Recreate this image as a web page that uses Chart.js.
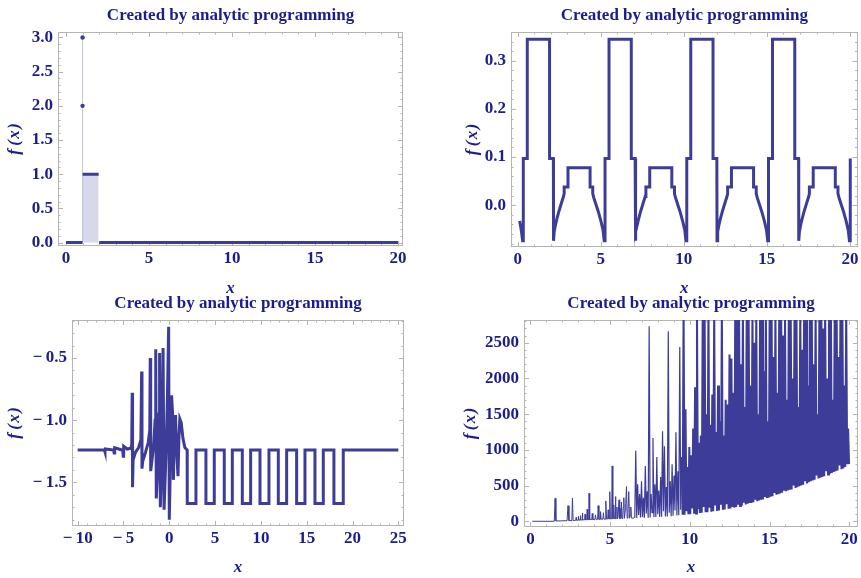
<!DOCTYPE html>
<html>
<head>
<meta charset="utf-8">
<script src="https://cdn.jsdelivr.net/npm/chart.js@4.4.1/dist/chart.umd.min.js"></script>
<style>
html, body { margin: 0; padding: 0; background: #fff; }
body { width: 861px; height: 578px; position: relative; overflow: hidden; }
canvas { position: absolute; }
</style>
</head>
<body>
<canvas id="c1" width="430" height="300" style="left:0;top:0"></canvas>
<canvas id="c2" width="431" height="300" style="left:430px;top:0"></canvas>
<canvas id="c3" width="430" height="290" style="left:0;top:288px"></canvas>
<canvas id="c4" width="431" height="290" style="left:430px;top:288px"></canvas>
<script>
const titleText = 'Created by analytic programming';
const xTitle = 'x';
const yTitle = 'f\u2009(\u200ax\u200a)';

// top left
const p1XTicks = [0, 5, 10, 15, 20];
const p1YTicks = [0, 0.5, 1, 1.5, 2, 2.5, 3];
const p1LineX = [0, 1, 1, 1, 1.97, 1.97, 2, 20];
const p1LineY = [0, 0, null, 1, 1, null, 0, 0];
const p1StemX = [1, 1];
const p1StemY = [0, 3];
const p1DotX = [1, 1];
const p1DotY = [3, 2];

// top right
const p2XTicks = [0, 5, 10, 15, 20];
const p2YTicks = [0, 0.1, 0.2, 0.3];
const p2X = [0.12, 0.22, 0.30,
  0.34, 0.34, 0.58, 0.58, 1.92, 1.92, 2.15, 2.16, 2.20, 2.27, 2.35, 2.49, 2.65, 2.76, 2.80, 2.80, 3.03, 3.03, 4.36, 4.36, 4.52, 4.52, 4.58, 4.69, 4.86, 5.02, 5.14, 5.21,
  5.26, 5.26, 5.50, 5.50, 6.84, 6.84, 7.07, 7.08, 7.12, 7.19, 7.27, 7.41, 7.57, 7.68, 7.72, 7.72, 7.95, 7.95, 9.28, 9.28, 9.44, 9.44, 9.50, 9.61, 9.78, 9.94, 10.06, 10.13,
  10.18, 10.18, 10.42, 10.42, 11.76, 11.76, 11.99, 12.00, 12.04, 12.11, 12.19, 12.33, 12.49, 12.60, 12.64, 12.64, 12.87, 12.87, 14.20, 14.20, 14.36, 14.36, 14.42, 14.53, 14.70, 14.86, 14.98, 15.05,
  15.10, 15.10, 15.34, 15.34, 16.68, 16.68, 16.91, 16.92, 16.96, 17.03, 17.11, 17.25, 17.41, 17.52, 17.56, 17.56, 17.79, 17.79, 19.12, 19.12, 19.28, 19.28, 19.34, 19.45, 19.62, 19.78, 19.90, 19.97,
  20.02, 20.02];
const p2Y = [-0.033, -0.052, -0.074,
  -0.074, 0.097, 0.097, 0.345, 0.345, 0.097, 0.097, -0.074, -0.055, -0.042, -0.030, -0.012, 0.006, 0.018, 0.024, 0.038, 0.038, 0.078, 0.078, 0.038, 0.038, 0.024, 0.016, 0.004, -0.014, -0.034, -0.052, -0.074,
  -0.074, 0.097, 0.097, 0.345, 0.345, 0.097, 0.097, -0.074, -0.055, -0.042, -0.030, -0.012, 0.006, 0.018, 0.024, 0.038, 0.038, 0.078, 0.078, 0.038, 0.038, 0.024, 0.016, 0.004, -0.014, -0.034, -0.052, -0.074,
  -0.074, 0.097, 0.097, 0.345, 0.345, 0.097, 0.097, -0.074, -0.055, -0.042, -0.030, -0.012, 0.006, 0.018, 0.024, 0.038, 0.038, 0.078, 0.078, 0.038, 0.038, 0.024, 0.016, 0.004, -0.014, -0.034, -0.052, -0.074,
  -0.074, 0.097, 0.097, 0.345, 0.345, 0.097, 0.097, -0.074, -0.055, -0.042, -0.030, -0.012, 0.006, 0.018, 0.024, 0.038, 0.038, 0.078, 0.078, 0.038, 0.038, 0.024, 0.016, 0.004, -0.014, -0.034, -0.052, -0.074,
  -0.074, 0.097];

// bottom left
const p3XTicks = [-10, -5, 0, 5, 10, 15, 20, 25];
const p3YTicks = [-1.5, -1, -0.5];
const p3X = [-10, -7.08, -7.02, -6.97, -6.08, -6.02, -5.96, -5.08, -5.03, -4.98, -4.6, -4.2, -4.1, -4.05, -4.01, -3.95, -3.7, -3.35, -3.1, -3.02, -2.98, -2.9, -2.6, -2.3, -2.13, -2.08, -2.03, -1.9, -1.7, -1.55, -1.48, -1.42, -1.25, -1.12, -1.06, -0.98, -0.8, -0.68, -0.57, -0.35, -0.2, -0.07, 0.0, 0.12, 0.25, 0.36, 0.45, 0.55, 0.68, 0.8, 0.95, 1.05, 1.15, 1.3, 1.5, 1.7, 1.95,
  1.96, 2.91, 2.91, 4.00, 4.00, 4.91, 4.91, 6.00, 6.00, 6.88, 6.88, 7.97, 7.97, 8.88, 8.88, 9.90, 9.90, 10.88, 10.88, 11.90, 11.90, 12.81, 12.81, 13.90, 13.90, 14.81, 14.81, 15.90, 15.90, 16.81, 16.81, 17.97, 17.97, 18.99, 18.99, 25];
const p3Y = [-1.24, -1.24, -1.255, -1.232, -1.24, -1.265, -1.222, -1.242, -1.29, -1.21, -1.232, -1.225, -1.2, -0.78, -1.54, -1.32, -1.26, -1.22, -1.16, -0.61, -1.39, -1.33, -1.26, -1.18, -1.08, -0.5, -1.41, -1.33, -1.2, -1.0, -0.43, -1.63, -1.35, -0.95, -0.46, -1.7, -1.3, -0.42, -1.72, -1.25, -0.8, -0.25, -1.8, -1.35, -0.8, -0.95, -1.48, -1.1, -0.96, -1.25, -1.45, -1.15, -0.99, -1.02, -1.15, -1.22, -1.24,
  -1.67, -1.67, -1.24, -1.24, -1.67, -1.67, -1.24, -1.24, -1.67, -1.67, -1.24, -1.24, -1.67, -1.67, -1.24, -1.24, -1.67, -1.67, -1.24, -1.24, -1.67, -1.67, -1.24, -1.24, -1.67, -1.67, -1.24, -1.24, -1.67, -1.67, -1.24, -1.24, -1.67, -1.67, -1.24, -1.24];

// bottom right
const p4XTicks = [0, 5, 10, 15, 20];
const p4YTicks = [0, 500, 1000, 1500, 2000, 2500];
const p4SparseX = [0.12, 1.50, 1.55, 1.60, 2.30, 2.36, 2.42, 2.60, 2.64, 2.68, 2.85, 2.87, 2.90, 3.00, 3.02, 3.05, 3.12, 3.14, 3.17, 3.24, 3.26, 3.29, 3.40, 3.43, 3.47, 3.54, 3.56, 3.60, 3.66, 3.68, 3.72, 3.85, 3.88, 3.92, 4.05, 4.08, 4.12, 4.22, 4.25, 4.30, 4.38, 4.40, 4.44, 4.55, 4.58, 4.62, 4.70, 4.73, 4.78, 4.85, 4.88, 4.92, 4.96, 4.98, 5.02, 5.10, 5.13, 5.17, 5.21, 5.23, 5.27, 5.31, 5.33, 5.37, 5.41, 5.43, 5.47, 5.50, 5.56, 5.60, 5.64, 5.66, 5.68, 5.71, 5.75, 5.80, 5.83, 5.86, 5.90, 5.95, 5.98, 6.03, 6.07, 6.12, 6.17, 6.22, 6.26, 6.30, 6.34, 6.50, 6.55];
const p4SparseY = [0, 0, 322, 4, 8, 219, 10, 10, 322, 12, 14, 55, 15, 16, 70, 16, 18, 80, 18, 19, 116, 20, 20, 100, 21, 22, 168, 23, 23, 392, 24, 24, 110, 25, 26, 90, 27, 27, 219, 28, 28, 135, 29, 29, 120, 30, 30, 285, 31, 32, 160, 32, 33, 415, 33, 34, 775, 35, 40, 230, 36, 38, 345, 37, 40, 200, 38, 60, 300, 39, 90, 180, 40, 270, 41, 100, 200, 330, 42, 150, 250, 486, 43, 120, 415, 44, 80, 200, 45, 45, 45];
// sampled from x = 6.55 every 0.06
const p4GridStart = 6.55;
const p4GridStep = 0.06;
const p4GridY = [
  45, 986, 50, 520, 90, 380, 52, 560, 60, 330,
  48, 775, 110, 420, 50, 2729, 55, 380, 120, 1165,
  55, 520, 60, 900, 100, 430, 62, 620, 64, 1260,
  140, 1050, 66, 480, 68, 2659, 120, 560, 72, 800,
  78, 640, 150, 1247, 82, 700, 85, 2439, 160, 900,
  90, 3000, 92, 1570, 140, 760, 98, 1040, 100, 925,
  180, 1300, 105, 1878, 110, 3000, 170, 1100, 115, 1200,
  118, 3000, 200, 3000, 125, 1500, 128, 3000, 190, 1350,
  135, 1775, 140, 3000, 220, 1250, 145, 1900, 150, 1400,
  230, 3000, 160, 1200, 165, 1700, 240, 1635, 175, 2336,
  180, 2280, 200, 1800, 190, 3000, 200, 3000, 230, 3000,
  215, 2200, 220, 3000, 260, 1600, 235, 3000, 245, 3000,
  255, 1900, 255, 3000, 265, 2500, 300, 3000, 280, 1500,
  290, 3000, 300, 3000, 305, 2100, 340, 3000, 325, 1400,
  330, 3000, 345, 3000, 350, 2300, 395, 3000, 370, 1800,
  380, 3000, 390, 3000, 400, 2600, 440, 3000, 420, 1700,
  430, 3000, 440, 3000, 445, 2000, 500, 3000, 465, 3000,
  475, 1600, 490, 3000, 500, 2400, 510, 3000, 560, 3000,
  530, 1900, 545, 3000, 560, 3000, 570, 2200, 580, 3000,
  640, 1500, 600, 3000, 610, 3000, 620, 2700, 630, 3000,
  700, 2000, 655, 3000, 665, 3000, 675, 1700, 690, 3000,
  700, 3000, 710, 2300, 780, 3000, 730, 3000, 740, 1900,
  760, 3000, 800, 1300, 800];

const SERIF = "'Liberation Serif', 'Times New Roman', serif";
const FS = 17;
const HALF = FS * 0.6;
const INK = '#1c1c8c';
const LINE = '#3d3d99';
const FRAME = '#b4b4b4';

const pts = (xs, ys) => xs.map((x, i) => ({ x: x, y: ys[i] }));
const minus = v => (v < 0 ? '\u2212\u2009' : '');
const fmt1 = v => minus(v) + Math.abs(v).toFixed(1);
const fmt0 = v => minus(v) + Math.abs(v).toFixed(0);

// Mathematica style frame with inward ticks on all four sides
const frame = {
  id: 'frame',
  beforeDatasetsDraw(chart, args, o) {
    const { ctx, chartArea: a, scales: { x, y } } = chart;
    ctx.save();
    ctx.strokeStyle = FRAME;
    ctx.lineWidth = 1;
    ctx.strokeRect(Math.round(a.left) + 0.5, Math.round(a.top) + 0.5, Math.round(a.width) - 1, Math.round(a.height) - 1);
    ctx.beginPath();
    const marks = (scale, step, majors, horiz) => {
      const k0 = Math.ceil(scale.min / step - 1e-6);
      const k1 = Math.floor(scale.max / step + 1e-6);
      for (let k = k0; k <= k1; k++) {
        const v = k * step;
        const len = majors.some(m => Math.abs(m - v) < step / 10) ? 5 : 2.5;
        const p = Math.round(scale.getPixelForValue(v)) + 0.5;
        if (horiz) {
          ctx.moveTo(p, a.bottom); ctx.lineTo(p, a.bottom - len);
          ctx.moveTo(p, a.top); ctx.lineTo(p, a.top + len);
        } else {
          ctx.moveTo(a.left, p); ctx.lineTo(a.left + len, p);
          ctx.moveTo(a.right, p); ctx.lineTo(a.right - len, p);
        }
      }
    };
    marks(x, o.xMinor, o.xMajor, true);
    marks(y, o.yMinor, o.yMajor, false);
    ctx.stroke();
    ctx.restore();
  }
};

function panel(id, cfg) {
  const cv = document.getElementById(id);
  const W = cv.width, H = cv.height, a = cfg.area;
  const tickFont = { family: SERIF, size: FS, weight: 'bold', lineHeight: 1.2 };
  const labFont = { family: SERIF, size: FS, weight: 'bold', style: 'italic', lineHeight: 1.2 };
  const titlePadTop = cfg.titleY - HALF;
  return new Chart(cv, {
    type: 'scatter',
    data: { datasets: cfg.datasets },
    options: {
      responsive: false,
      animation: false,
      devicePixelRatio: 1,
      layout: { padding: { left: 0, top: 0, right: W - a.right, bottom: 0 } },
      plugins: {
        legend: { display: false },
        tooltip: { enabled: false },
        title: {
          display: true, text: titleText, fullSize: false, color: INK,
          font: { family: SERIF, size: FS, weight: 'bold', lineHeight: 1.2 },
          padding: { top: titlePadTop, bottom: a.top - 2 * HALF - titlePadTop }
        },
        frame: { xMinor: cfg.x.minor, yMinor: cfg.y.minor, xMajor: cfg.x.ticks, yMajor: cfg.y.ticks }
      },
      scales: {
        x: {
          type: 'linear', min: cfg.x.min, max: cfg.x.max,
          afterBuildTicks: s => { s.ticks = cfg.x.ticks.map(v => ({ value: v })); },
          afterFit: s => { s.height = H - a.bottom; },
          grid: { display: false, drawTicks: false },
          border: { display: false },
          ticks: { color: INK, font: tickFont, padding: 2.5, maxRotation: 0, autoSkip: false, callback: cfg.x.fmt },
          title: { display: true, text: xTitle, color: INK, font: labFont, padding: { top: 0, bottom: cfg.xTitleOff - HALF } }
        },
        y: {
          type: 'linear', min: cfg.y.min, max: cfg.y.max,
          afterBuildTicks: s => { s.ticks = cfg.y.ticks.map(v => ({ value: v })); },
          afterFit: s => { s.width = a.left; },
          grid: { display: false, drawTicks: false },
          border: { display: false },
          ticks: { color: INK, font: tickFont, padding: 5, autoSkip: false, callback: cfg.y.fmt },
          title: { display: true, text: yTitle, color: INK, font: labFont, padding: { top: cfg.yTitleX - HALF, bottom: 0 } }
        }
      }
    },
    plugins: [frame]
  });
}

const lineSet = (data, w) => ({
  data: data, showLine: true, borderColor: LINE, borderWidth: w,
  pointRadius: 0, tension: 0, fill: false, spanGaps: false
});

panel('c1', {
  area: { left: 58, top: 32, right: 403, bottom: 246 },
  titleY: 16, xTitleOff: 11, yTitleX: 15,
  x: { min: -0.48, max: 20.3, ticks: p1XTicks, minor: 1, fmt: fmt0 },
  y: { min: -0.05, max: 3.08, ticks: p1YTicks, minor: 0.1, fmt: fmt1 },
  datasets: [
    { data: pts(p1DotX, p1DotY), showLine: false, pointRadius: 2.2, pointBackgroundColor: LINE, pointBorderWidth: 0 },
    Object.assign(lineSet(pts(p1LineX, p1LineY), 3), { fill: 'origin', backgroundColor: 'rgba(61,61,153,0.2)' }),
    Object.assign(lineSet(pts(p1StemX, p1StemY), 1), { borderColor: 'rgba(61,61,153,0.3)' })
  ]
});

panel('c2', {
  area: { left: 81, top: 32, right: 428, bottom: 247 },
  titleY: 16, xTitleOff: 11, yTitleX: 42.7,
  x: { min: -0.4, max: 20.46, ticks: p2XTicks, minor: 1, fmt: fmt0 },
  y: { min: -0.0869, max: 0.36, ticks: p2YTicks, minor: 0.02, fmt: fmt1 },
  datasets: [lineSet(pts(p2X, p2Y), 3)]
});

panel('c3', {
  area: { left: 72, top: 32, right: 404, bottom: 238 },
  titleY: 15.7, xTitleOff: 10, yTitleX: 15,
  x: { min: -10.62, max: 25.62, ticks: p3XTicks, minor: 1, fmt: fmt0 },
  y: { min: -1.851, max: -0.195, ticks: p3YTicks, minor: 0.1, fmt: fmt1 },
  datasets: [lineSet(pts(p3X, p3Y), 3)]
});

const p4Grid = p4GridY.map((y, i) => ({ x: p4GridStart + i * p4GridStep, y: y }));
panel('c4', {
  area: { left: 94, top: 32, right: 428, bottom: 239 },
  titleY: 15.7, xTitleOff: 10, yTitleX: 40.7,
  x: { min: -0.4, max: 20.55, ticks: p4XTicks, minor: 1, fmt: fmt0 },
  y: { min: -80, max: 2818, ticks: p4YTicks, minor: 100, fmt: fmt0 },
  datasets: [
    lineSet(pts(p4SparseX, p4SparseY), 1),
    lineSet(p4Grid.slice(0, 50), 1.2),
    lineSet(p4Grid.slice(49), 2)
  ]
});
</script>
</body>
</html>
